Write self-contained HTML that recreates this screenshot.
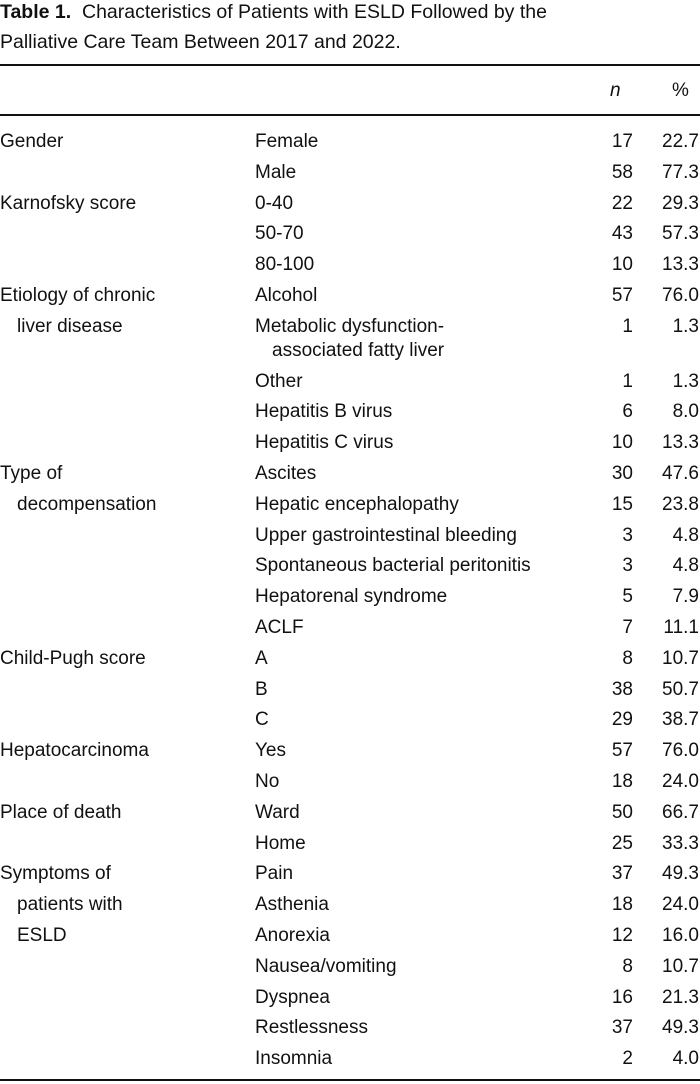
<!DOCTYPE html>
<html><head><meta charset="utf-8">
<style>
html,body{margin:0;padding:0;background:#fff;}
body{width:700px;height:1084px;position:relative;overflow:hidden;font-family:"Liberation Sans",sans-serif;color:#111;font-size:19px;}
.t{position:absolute;white-space:nowrap;line-height:22px;}
.rule{position:absolute;left:0;width:700px;background:#111;}
.r{text-align:right;}
</style></head>
<body>
<div class="t" style="left:0;top:1px;font-size:19.5px"><b>Table 1.</b>&nbsp; Characteristics of Patients with ESLD Followed by the</div>
<div class="t" style="left:0;top:31px;font-size:19.5px">Palliative Care Team Between 2017 and 2022.</div>
<div class="rule" style="top:64px;height:2px"></div>
<div class="t" style="left:610px;top:80px;font-style:italic">n</div>
<div class="t" style="left:672px;top:80px">%</div>
<div class="rule" style="top:114px;height:2px"></div>
<div class="rule" style="top:1079px;height:2px"></div>
<div id="rows"></div>
<script>
const labels=[["Gender","Female"],["","Male"],["Karnofsky score","0-40"],["","50-70"],["","80-100"],
["Etiology of chronic","Alcohol"],["   liver disease","Metabolic dysfunction-|associated fatty liver"],["","Other"],["","Hepatitis B virus"],["","Hepatitis C virus"],
["Type of","Ascites"],["   decompensation","Hepatic encephalopathy"],["","Upper gastrointestinal bleeding"],["","Spontaneous bacterial peritonitis"],["","Hepatorenal syndrome"],["","ACLF"],
["Child-Pugh score","A"],["","B"],["","C"],["Hepatocarcinoma","Yes"],["","No"],["Place of death","Ward"],["","Home"],
["Symptoms of","Pain"],["   patients with","Asthenia"],["   ESLD","Anorexia"],["","Nausea/vomiting"],["","Dyspnea"],["","Restlessness"],["","Insomnia"]];
const nVals=["17","58","22","43","10","57","1","1","6","10","30","15","3","3","5","7","8","38","29","57","18","50","25","37","18","12","8","16","37","2"];
const pctVals=["22.7","77.3","29.3","57.3","13.3","76.0","1.3","1.3","8.0","13.3","47.6","23.8","4.8","4.8","7.9","11.1","10.7","50.7","38.7","76.0","24.0","66.7","33.3","49.3","24.0","16.0","10.7","21.3","49.3","4.0"];
const root=document.getElementById('rows');
let y=142;
function mk(txt,left,top,cls,w){const d=document.createElement('div');d.className='t'+(cls?' '+cls:'');d.textContent=txt;d.style.left=left+'px';d.style.top=(top-11)+'px';if(w)d.style.width=w+'px';root.appendChild(d);return d;}
labels.forEach((row,i)=>{
  let c=row[0];
  if(c){let ind=c.startsWith('   ');const e=mk(c.trim(),ind?17:0,y);
  
  }
  const parts=row[1].split('|');
  const s=mk(parts[0],255,y);
  
  
  const n=mk(nVals[i],580,y,'r',53);
  
  
  const p=mk(pctVals[i],640,y,'r',59);
  
  
  if(parts[1]){y+=24;const s2=mk(parts[1],272,y);
  
  }
  y+=30.8;
});
</script>
</body></html>
